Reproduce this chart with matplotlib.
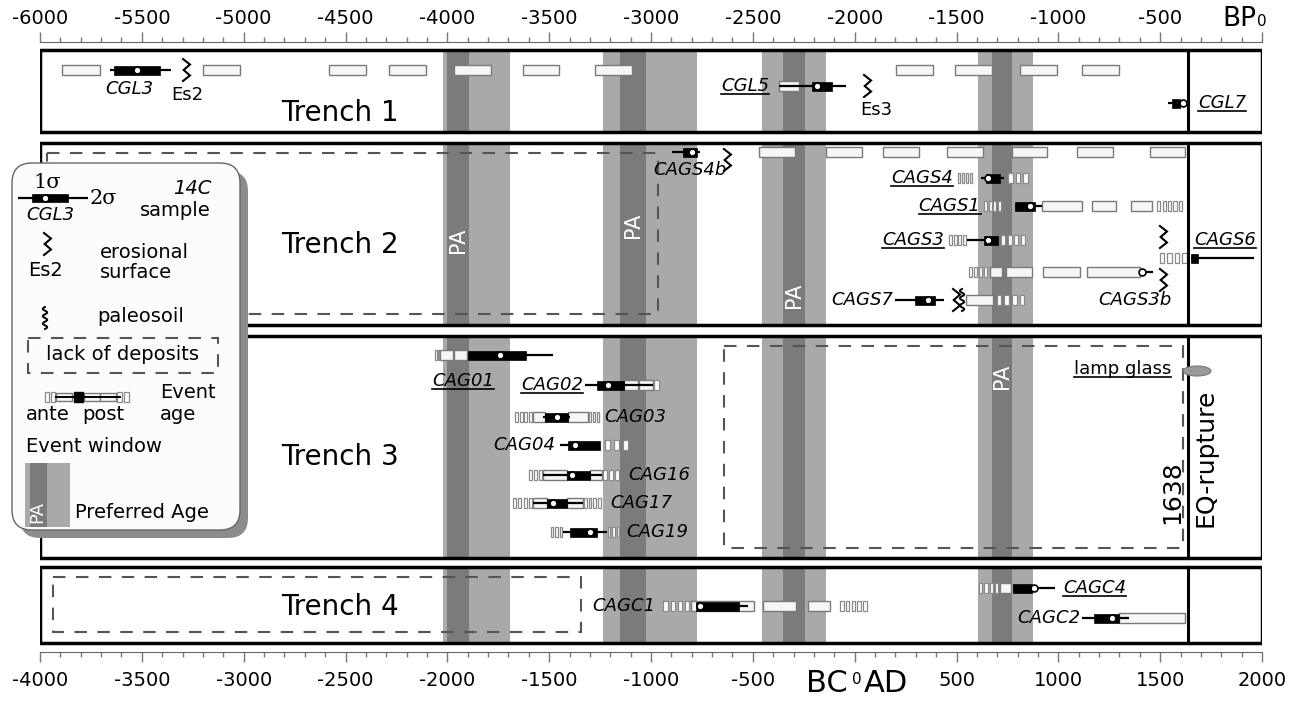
import matplotlib
matplotlib.use("Agg")
import matplotlib.pyplot as plt
from matplotlib.patches import Rectangle, FancyBboxPatch, Ellipse
from matplotlib.ticker import MultipleLocator
import numpy as np

plt.rcParams['font.family'] = ['DejaVu Sans']

# ---------------- DATA (calendar years, AD; negative = BC) ----------------
YEAR_MIN, YEAR_MAX = -4000, 2000
BP_OFFSET = 2000
EQ_YEAR = 1638

BAND_LIGHT = [(-2020, -1690), (-1235, -775), (-455, -140), (605, 875)]
BAND_DARK = [(-2000, -1895), (-1150, -1025), (-350, -245), (675, 772)]

TRENCH_NAMES = ["Trench 1", "Trench 2", "Trench 3", "Trench 4"]

SAMPLE_NAMES = ["CGL3", "CGL5", "CGL7", "CAGS4b", "CAGS4", "CAGS1", "CAGS3", "CAGS6",
                "CAGS3b", "CAGS7", "CAG01", "CAG02", "CAG03", "CAG04", "CAG16", "CAG17",
                "CAG19", "CAGC1", "CAGC4", "CAGC2"]
SIGMA2_LO = [-3656, -372, 1538, -897, 620, 787, 552, 1651, 1401, 198, -1898, -1324,
             -1530, -1447, -1530, -1579, -1432, -779, 778, 1116]
SIGMA2_HI = [-3357, -43, 1622, -759, 733, 920, 704, 1961, 1465, 439, -1481, -990,
             -1400, -1250, -1241, -1334, -1216, -524, 984, 1347]
SIGMA1_LO = [-3637, -210, 1558, -843, 645, 787, 635, 1651, None, 296, -1898, -1265,
             -1520, -1407, -1412, -1510, -1398, -779, 778, 1175]
SIGMA1_HI = [-3411, -111, 1597, -774, 714, 885, 704, 1686, None, 394, -1614, -1133,
             -1407, -1250, -1299, -1412, -1265, -568, 871, 1298]
MEDIAN = [-3524, -185, 1612, -799, 655, 861, 655, None, 1411, 360, -1741, -1211,
          -1461, -1373, -1388, -1481, -1300, -759, 881, 1263]
UNDERLINED = ["CGL5", "CGL7", "CAGS4", "CAGS1", "CAGS3", "CAGS6", "CAG01", "CAG02", "CAGC4"]

# deposit units (open boxes): row, start, end
UNIT_ROW = ["T1"] * 11 + ["CGL5"] + ["T2"] * 7 + ["CAGS1"] * 3 + ["CAGS3b"] * 4 + ["CAGS7"] + \
           ["CAG01"] * 2 + ["CAG02"] * 2 + ["CAG03"] * 2 + ["CAG16"] * 2 + ["CAG17"] * 2 + \
           ["CAGC1"] * 3 + ["CAGC4"] + ["CAGC2"]
UNIT_LO = [-3890, -3200, -2580, -2285, -1965, -1630, -1275, 205, 495, 810, 1115,
           -372,
           -470, -140, 140, 453, 772, 1092, 1450,
           920, 1165, 1357,
           665, 743, 925, 1141,
           547,
           -2036, -1965,
           -1133, -1060,
           -1579, -1407,
           -1530, -1299,
           -1579, -1412,
           -804, -450, -229,
           714,
           1298]
UNIT_HI = [-3705, -3020, -2400, -2105, -1785, -1450, -1095, 385, 675, 995, 1300,
           -273,
           -293, 36, 317, 630, 944, 1269, 1622,
           1116, 1283, 1460,
           723, 871, 1106, 1401,
           679,
           -1970, -1903,
           -1065, -990,
           -1520, -1309,
           -1412, -1241,
           -1510, -1334,
           -494, -288, -121,
           768,
           1622]

# ante / post quantised boxes: row, start, end, count
BAR_ROW = ["CAGS4", "CAGS4", "CAGS1", "CAGS1", "CAGS3", "CAGS3", "CAGS6", "CAGS3b", "CAGS7",
           "CAG01", "CAG02", "CAG03", "CAG03", "CAG04", "CAG16", "CAG16", "CAG17", "CAG17",
           "CAG19", "CAG19", "CAGC1", "CAGC1", "CAGC4"]
BAR_LO = [503, 748, 630, 1480, 458, 714, 1490, 557, 689,
          -2061, -990, -1673, -1309, -1236, -1604, -1241, -1683, -1334,
          -1496, -1216, -946, -77, 606]
BAR_HI = [581, 856, 723, 1612, 552, 841, 1637, 655, 841,
          -2036, -956, -1579, -1250, -1103, -1530, -1152, -1579, -1241,
          -1432, -1152, -804, 65, 709]
BAR_N = [4, 3, 4, 5, 4, 4, 4, 4, 4,
         2, 1, 4, 3, 3, 3, 3, 4, 4,
         3, 3, 4, 5, 4]

EROSION_NAMES = ["Es2", "Es3", "", "", "", ""]
EROSION_YEAR = [-3298, 46, -642, 1499, 1499, 483]
PALEOSOIL_YEAR = [527]

DEPOSIT_GAP_LO = [-3966, -642, -3936]
DEPOSIT_GAP_HI = [-966, 1612, -1344]

BOTTOM_TICKS = list(range(-4000, 2001, 500))
TOP_TICKS = list(range(-6000, 1, 500))

# ---------------- LAYOUT (pixel rows) ----------------
TRENCH_Y = [(50, 132), (143, 325), (336, 558), (567, 643)]
TRENCH_LABEL_Y = [113, 245, 457, 607]
ROW_Y = {"T1": 70, "CGL3": 70, "CGL5": 86, "CGL7": 103, "T2": 152, "CAGS4b": 152,
         "CAGS4": 178, "CAGS1": 206, "CAGS3": 240, "CAGS6": 258, "CAGS3b": 272, "CAGS7": 300,
         "CAG01": 355, "CAG02": 385, "CAG03": 417, "CAG04": 445, "CAG16": 475, "CAG17": 503,
         "CAG19": 532, "CAGC4": 588, "CAGC1": 606, "CAGC2": 618}
LABEL_POS = {"CGL3": (-3560, 89, "center"), "CGL5": (-420, 86, "right"),
             "CGL7": (1686, 103, "left"), "CAGS4b": (-808, 170, "center"),
             "CAGS4": (483, 178, "right"), "CAGS1": (618, 206, "right"),
             "CAGS3": (440, 240, "right"), "CAGS6": (1668, 240, "left"),
             "CAGS3b": (1376, 300, "center"), "CAGS7": (188, 300, "right"),
             "CAG01": (-1923, 381, "center"), "CAG02": (-1334, 385, "right"),
             "CAG03": (-1231, 417, "left"), "CAG04": (-1471, 445, "right"),
             "CAG16": (-1113, 475, "left"), "CAG17": (-1201, 503, "left"),
             "CAG19": (-1123, 532, "left"), "CAGC1": (-980, 606, "right"),
             "CAGC4": (1023, 588, "left"), "CAGC2": (1110, 618, "right")}
EROSION_Y = [70, 86, 160, 237, 280, 300]
EROSION_LABEL_POS = [(-3278, 95), (105, 110)]
PALEOSOIL_Y = [300]
DEPOSIT_GAP_Y = [(153, 314), (346, 548), (577, 632)]
PA_POS = [(-1950, 240), (-1088, 225), (-297, 295), (722, 376)]

YPX = 6000 / 1222.0   # years per pixel, for symbol widths

LIGHT = "#a9a9a9"
DARK = "#7b7b7b"

fig = plt.figure(figsize=(13, 7.01), dpi=100)
ax = fig.add_axes([40 / 1300, 1 - 652 / 701, 1222 / 1300, 610 / 701])
ax.set_xlim(YEAR_MIN, YEAR_MAX)
ax.set_ylim(652, 42)
for s in ["left", "right"]:
    ax.spines[s].set_visible(False)
ax.spines["bottom"].set_color("#666")
ax.spines["top"].set_visible(False)
ax.set_yticks([])

ax.set_xticks(BOTTOM_TICKS)
ax.set_xticklabels([("" if t == 0 else str(t)) for t in BOTTOM_TICKS])
ax.xaxis.set_minor_locator(MultipleLocator(100))
ax.tick_params(axis="x", which="major", length=7, width=1, color="#777", labelsize=14, pad=7)
ax.tick_params(axis="x", which="minor", length=3.6, width=1, color="#777")

sec = ax.secondary_xaxis("top", functions=(lambda x: x - BP_OFFSET, lambda x: x + BP_OFFSET))
sec.set_xticks(TOP_TICKS)
sec.set_xticklabels([("" if t == 0 else str(t)) for t in TOP_TICKS])
sec.xaxis.set_minor_locator(MultipleLocator(100))
sec.tick_params(axis="x", which="major", length=7, width=1, color="#777", labelsize=14, pad=3)
sec.tick_params(axis="x", which="minor", length=3.6, width=1, color="#777")
sec.spines["top"].set_color("#666")

ax.text(1890, 19, "BP", fontsize=19, ha="center", va="center", clip_on=False)
ax.text(2000, 21, "0", fontsize=11, ha="center", va="center", clip_on=False)
ax.text(-137, 683, "BC", fontsize=22, ha="center", va="center", clip_on=False)
ax.text(12, 679, "0", fontsize=11, ha="center", va="center", clip_on=False)
ax.text(152, 683, "AD", fontsize=22, ha="center", va="center", clip_on=False)


def hrect(a, lo, hi, y, h=10, fc="#f6f6f6", ec="#7a7a7a", lw=1.0, z=4):
    a.add_patch(Rectangle((lo, y - h / 2), hi - lo, h, fc=fc, ec=ec, lw=lw, zorder=z))


def bars(a, lo, hi, n, y, z=4):
    step = (hi - lo) / n
    w = step * 0.6
    for i in range(n):
        x0 = lo + i * step + (step - w) / 2
        hrect(a, x0, x0 + w, y, h=10, fc="white", ec="#8a8a8a", lw=0.9, z=z)


def sample(a, s2, s1, med, y, h=9):
    a.plot(s2, [y, y], color="k", lw=1.6, zorder=6, solid_capstyle="butt")
    if s1[0] is not None:
        a.add_patch(Rectangle((s1[0], y - h / 2), s1[1] - s1[0], h, fc="k", ec="k", lw=0.5, zorder=7))
    if med is not None:
        a.plot(med, y, "o", ms=5, mfc="white", mec="k", mew=1.2, zorder=8)


def zigzag(a, x, y, sx, h=22, lw=1.5):
    px = np.array([0, 1, 0.1, 1, 0.0]) * 7 * sx
    py = np.array([-1, -0.5, 0, 0.5, 1]) * h / 2
    a.plot(x + px, y + py, color="k", lw=lw, zorder=8, solid_joinstyle="miter")


def paleosoil(a, x, y, sx, h=22, lw=1.4):
    t = np.linspace(-1, 1, 60)
    a.plot(x + sx * 2.2 * np.sin(t * 3 * np.pi), y + t * h / 2, color="k", lw=lw, zorder=8)


# trench boxes + bands
for (y0, y1), name, ly in zip(TRENCH_Y, TRENCH_NAMES, TRENCH_LABEL_Y):
    ax.add_patch(Rectangle((YEAR_MIN, y0), YEAR_MAX - YEAR_MIN, y1 - y0, fc="white", ec="none", zorder=1))
    for lo, hi in BAND_LIGHT:
        ax.add_patch(Rectangle((lo, y0), hi - lo, y1 - y0, fc=LIGHT, ec="none", zorder=2))
    for lo, hi in BAND_DARK:
        ax.add_patch(Rectangle((lo, y0), hi - lo, y1 - y0, fc=DARK, ec="none", zorder=2))
    ax.add_patch(Rectangle((YEAR_MIN, y0), YEAR_MAX - YEAR_MIN, y1 - y0, fc="none", ec="k", lw=2.5, zorder=9))
    ax.plot([EQ_YEAR, EQ_YEAR], [y0, y1], color="k", lw=2.2, zorder=9)
    ax.text(-2527, ly, name, fontsize=20, ha="center", va="center", zorder=10)

for (x, y) in PA_POS:
    ax.text(x, y, "PA", color="white", fontsize=15, rotation=90, ha="center", va="center", zorder=5)

# lack of deposits
for lo, hi, (y0, y1) in zip(DEPOSIT_GAP_LO, DEPOSIT_GAP_HI, DEPOSIT_GAP_Y):
    ax.add_patch(Rectangle((lo, y0), hi - lo, y1 - y0, fc="none", ec="#555", lw=1.5,
                           ls=(0, (6, 5)), zorder=3))

# deposit units and quantised boxes
for r, lo, hi in zip(UNIT_ROW, UNIT_LO, UNIT_HI):
    hrect(ax, lo, hi, ROW_Y[r])
for r, lo, hi, n in zip(BAR_ROW, BAR_LO, BAR_HI, BAR_N):
    bars(ax, lo, hi, n, ROW_Y[r])

# samples
ul_texts = []
for i, nm in enumerate(SAMPLE_NAMES):
    y = ROW_Y[nm]
    sample(ax, (SIGMA2_LO[i], SIGMA2_HI[i]), (SIGMA1_LO[i], SIGMA1_HI[i]), MEDIAN[i], y)
    lx, lyy, ha = LABEL_POS[nm]
    t = ax.text(lx, lyy, nm, fontsize=13, style="italic", ha=ha, va="center", zorder=10)
    if nm in UNDERLINED:
        ul_texts.append(t)

for x, y in zip(EROSION_YEAR, EROSION_Y):
    zigzag(ax, x, y, YPX)
for nm, (x, y) in zip(EROSION_NAMES, EROSION_LABEL_POS):
    ax.text(x, y, nm, fontsize=13, ha="center", va="center", zorder=10)
for x, y in zip(PALEOSOIL_YEAR, PALEOSOIL_Y):
    paleosoil(ax, x, y, YPX)

# lamp glass & EQ rupture
ax.add_patch(Ellipse((1681, 371), 137, 10, fc="#9a9a9a", ec="#777", lw=0.8, zorder=10))
lg = ax.text(1555, 369, "lamp glass", fontsize=13, ha="right", va="center", zorder=10)
ul_texts.append(lg)
ax.text(1560, 492, str(EQ_YEAR), fontsize=18, rotation=90, ha="center", va="center", zorder=10)
ax.text(1722, 458, "EQ-rupture", fontsize=18, rotation=90, ha="center", va="center", zorder=10)

# ---------------- legend ----------------
lax = fig.add_axes([0, 1 - 545 / 701, 260 / 1300, 395 / 701])
lax.set_xlim(0, 260)
lax.set_ylim(545, 150)
lax.axis("off")
lax.add_patch(FancyBboxPatch((20, 171), 228, 367, boxstyle="round,pad=0,rounding_size=20",
                             fc="#8c8c8c", ec="none", zorder=1))
lax.add_patch(FancyBboxPatch((12, 163), 228, 367, boxstyle="round,pad=0,rounding_size=20",
                             fc="#fcfcfc", ec="#666", lw=1, zorder=2))
lax.text(47, 183, "1σ", fontsize=15, family="DejaVu Serif", ha="center", va="center", zorder=5)
sample(lax, (18, 88), (32, 68), 45, 198, h=8)
lax.text(90, 199, "2σ", fontsize=15, family="DejaVu Serif", ha="left", va="center", zorder=5)
lax.text(50, 215, "CGL3", fontsize=13, style="italic", ha="center", va="center", zorder=5)
lax.text(211, 188, "14C", fontsize=14, style="italic", ha="right", va="center", zorder=5)
lax.text(211, 211, "sample", fontsize=14, ha="right", va="center", zorder=5)
zigzag(lax, 44, 244, 1.0)
lax.text(45, 270, "Es2", fontsize=14, ha="center", va="center", zorder=5)
lax.text(100, 252, "erosional", fontsize=14, ha="left", va="center", zorder=5)
lax.text(100, 272, "surface", fontsize=14, ha="left", va="center", zorder=5)
paleosoil(lax, 45, 318, 1.0)
lax.text(97, 316, "paleosoil", fontsize=14, ha="left", va="center", zorder=5)
lax.add_patch(Rectangle((28, 338), 190, 35, fc="none", ec="#555", lw=1.5, ls=(0, (6, 5)), zorder=5))
lax.text(123, 355, "lack of deposits", fontsize=14, ha="center", va="center", zorder=5)
bars(lax, 44, 56, 2, 397, z=5)
hrect(lax, 56, 72, 397, h=8, z=5)
hrect(lax, 84, 100, 397, h=8, z=5)
hrect(lax, 100, 116, 397, h=8, z=5)
bars(lax, 116, 130, 2, 397, z=5)
lax.plot([56, 120], [397, 397], color="k", lw=1.4, zorder=6)
lax.add_patch(Rectangle((74, 392), 9, 10, fc="k", ec="k", zorder=7))
lax.text(26, 414, "ante", fontsize=14, ha="left", va="center", zorder=5)
lax.text(82, 414, "post", fontsize=14, ha="left", va="center", zorder=5)
lax.text(160, 393, "Event", fontsize=14, ha="left", va="center", zorder=5)
lax.text(160, 414, "age", fontsize=14, ha="left", va="center", zorder=5)
lax.text(26, 447, "Event window", fontsize=14, ha="left", va="center", zorder=5)
lax.add_patch(Rectangle((25, 463), 45, 64, fc=LIGHT, ec="none", zorder=5))
lax.add_patch(Rectangle((30, 463), 17, 64, fc=DARK, ec="none", zorder=5))
lax.text(37, 512, "PA", color="white", fontsize=13, rotation=90, ha="center", va="center", zorder=6)
lax.text(75, 513, "Preferred Age", fontsize=14, ha="left", va="center", zorder=5)

# underline selected labels
fig.canvas.draw()
r = fig.canvas.get_renderer()
inv = ax.transData.inverted()
for t in ul_texts:
    bb = t.get_window_extent(r)
    (x0, yb), (x1, _) = inv.transform([(bb.x0, bb.y0 + 1), (bb.x1, bb.y0 + 1)])
    ax.plot([x0, x1], [yb, yb], color="k", lw=1.2, zorder=10)

fig.savefig("out.png", dpi=100, facecolor="white")
